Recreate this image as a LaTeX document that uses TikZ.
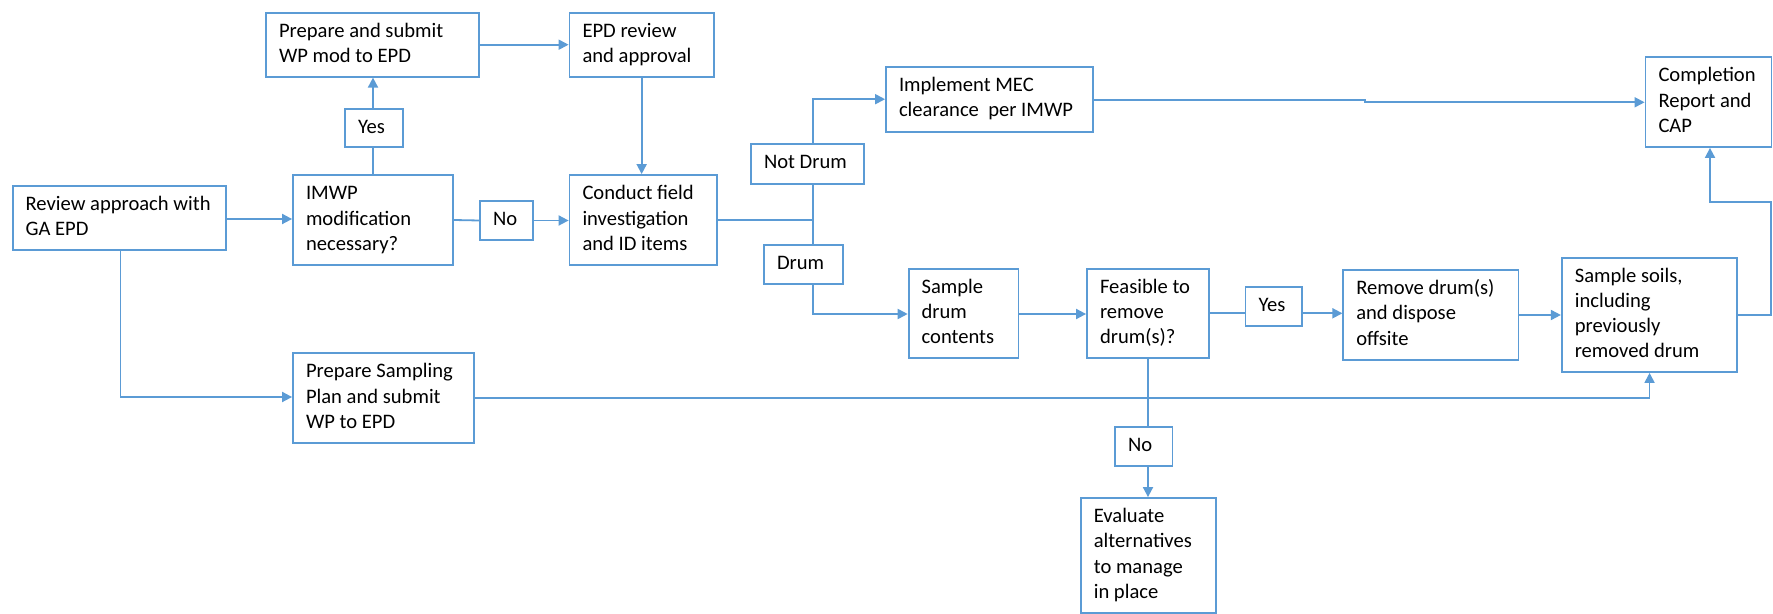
\documentclass[tikz,border=0pt]{standalone}
\usepackage{fontspec}
\setmainfont{Carlito}
\usetikzlibrary{arrows.meta}
\definecolor{lblue}{HTML}{5B9BD5}
\newcommand\bt[2]{\makebox[\dimexpr#1-13pt\relax][l]{\begin{tabular}{@{}l@{}}#2\end{tabular}}}
\begin{document}
\begin{tikzpicture}[x=0.5pt,y=-0.5pt,
  box/.style={draw=lblue,line width=0.9pt,inner sep=0pt,fill=white,
    font=\fontsize{10.3}{12.6}\selectfont,text=black},
  conn/.style={draw=lblue,line width=0.9pt},
  arr/.style={conn,-{Triangle[length=5pt,width=5pt]}}]
\useasboundingbox (0,0) rectangle (1773,614);
\node[box,minimum width=106.7pt,minimum height=32pt] (review) at (119.3,218) {\bt{106.7pt}{Review approach with\\GA EPD}};
\node[box,minimum width=80pt,minimum height=45pt] (imwp) at (373,220) {\bt{80pt}{IMWP\\modification\\necessary?}};
\node[box,minimum width=106.5pt,minimum height=32pt] (prepmod) at (372.5,44.7) {\bt{106.5pt}{Prepare and submit\\WP mod to EPD}};
\node[box,minimum width=29pt,minimum height=19pt] (yes1) at (374,128) {\bt{29pt}{Yes}};
\node[box,minimum width=26.5pt,minimum height=19.5pt] (no1) at (506.5,220.5) {\bt{26.5pt}{No}};
\node[box,minimum width=72.15pt,minimum height=32pt] (epdrev) at (641.65,44.7) {\bt{72.15pt}{EPD review\\and approval}};
\node[box,minimum width=73.75pt,minimum height=45pt] (conduct) at (643.25,220) {\bt{73.75pt}{Conduct field\\investigation\\and ID items}};
\node[box,minimum width=56.5pt,minimum height=20pt] (notdrum) at (807.5,163.7) {\bt{56.5pt}{Not Drum}};
\node[box,minimum width=39.5pt,minimum height=19.8pt] (drum) at (803.5,264.5) {\bt{39.5pt}{Drum}};
\node[box,minimum width=103.35pt,minimum height=32.5pt] (mec) at (989.35,99.2) {\bt{103.35pt}{Implement MEC\\clearance~ per IMWP}};
\node[box,minimum width=63pt,minimum height=44.85pt] (completion) at (1708.5,102.15) {\bt{63pt}{Completion\\Report and\\CAP}};
\node[box,minimum width=54.9pt,minimum height=44.65pt] (sampdrum) at (963.5,313.35) {\bt{54.9pt}{Sample\\drum\\contents}};
\node[box,minimum width=61pt,minimum height=44.65pt] (feasible) at (1148,313.35) {\bt{61pt}{Feasible to\\remove\\drum(s)?}};
\node[box,minimum width=28.25pt,minimum height=19.65pt] (yes2) at (1273.75,306.65) {\bt{28.25pt}{Yes}};
\node[box,minimum width=87.6pt,minimum height=45.15pt] (remove) at (1430.9,314.85) {\bt{87.6pt}{Remove drum(s)\\and dispose\\offsite}};
\node[box,minimum width=87.75pt,minimum height=57.15pt] (soils) at (1649.55,314.85) {\bt{87.75pt}{Sample soils,\\including\\previously\\removed drum}};
\node[box,minimum width=28.75pt,minimum height=19.5pt] (no2) at (1143.75,446.8) {\bt{28.75pt}{No}};
\node[box,minimum width=67.55pt,minimum height=57.5pt] (evaluate) at (1148.35,555.5) {\bt{67.55pt}{Evaluate\\alternatives\\to manage\\in place}};
\node[box,minimum width=90.5pt,minimum height=45pt] (prepsamp) at (383.5,398) {\bt{90.5pt}{Prepare Sampling\\Plan and submit\\WP to EPD}};
% connectors
\coordinate (jn) at (813,220);
\coordinate (stepa) at (1365,100);
\coordinate (stepb) at (1365,102.3);
\coordinate (rt) at (1771,201.7);
\draw[arr] (review.east |- 0,219) -- (imwp.west |- 0,219);
\draw[conn] (imwp.north) -- (yes1.south -| imwp.north);
\draw[arr] (yes1.north -| imwp.north) -- (prepmod.south -| imwp.north);
\draw[conn] (imwp.east) -- (no1.west);
\draw[arr] (no1.east) -- (conduct.west |- no1.east);
\draw[arr] (prepmod.east) -- (epdrev.west);
\draw[arr] (epdrev.south) -- (conduct.north -| epdrev.south);
\draw[conn] (conduct.east) -- (jn);
\draw[conn] (jn) -- (notdrum.south -| jn);
\draw[arr] (notdrum.north -| jn) |- (mec.west);
\draw[conn] (jn) -- (drum.north -| jn);
\draw[arr] (drum.south -| jn) |- (sampdrum.west |- 0,314);
\draw[arr] (mec.east |- stepa) -- (stepa) -- (stepb) -- (completion.west |- stepb);
\draw[arr] (sampdrum.east |- 0,314) -- (feasible.west |- 0,314);
\draw[conn] (feasible.east |- 0,313.3) -- (yes2.west |- 0,313.3);
\draw[arr] (yes2.east |- 0,313.3) -- (remove.west |- 0,313.3);
\draw[arr] (remove.east |- 0,315) -- (soils.west |- 0,315);
\draw[arr] (soils.east |- 0,315) -| (rt) -| (completion.south -| 1710,0);
\draw[conn] (feasible.south) -- (no2.north -| feasible.south);
\draw[arr] (no2.south -| feasible.south) -- (evaluate.north -| feasible.south);
\draw[arr] (review.south -| 120.5,0) |- (prepsamp.west |- 0,397);
\draw[arr] (prepsamp.east) -| (soils.south);
\end{tikzpicture}
\end{document}
